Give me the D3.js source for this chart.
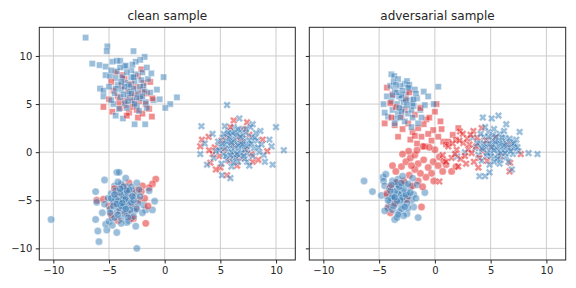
<!DOCTYPE html>
<html><head><meta charset="utf-8">
<script src="https://cdn.jsdelivr.net/npm/d3@7"></script>
<style>body{margin:0;background:#fff}svg{display:block}text{font-family:"DejaVu Sans",sans-serif;fill:#262626}</style>
</head><body><svg id="c" width="576" height="288"></svg>
<script>
const panelTitles = ["clean sample", "adversarial sample"];
const xTicks = [-10, -5, 0, 5, 10];
const yTicks = [-10, -5, 0, 5, 10];
const colorNames = ["blue", "red"];
const markerNames = ["square", "circle", "x"];

// clean sample
const cleanSquareBlue = [[-7.1,11.9],[-5.15,11.0],[-5.2,10.5],[-2.8,10.5],[-6.5,9.2],[-5.85,9.05],[-5.3,8.9],[-1.8,9.9],[-2.2,9.6],[-2.6,9.4],[-4.7,9.4],[-4.3,9.5],[-4.0,9.5],[-3.6,8.9],[-5.8,6.6],[-5.5,6.4],[-5.5,5.8],[-5.3,8.0],[-4.9,7.9],[-4.4,7.7],[-0.1,7.8],[1.1,5.7],[0.5,5.0],[-0.45,5.5],[0.05,4.6],[-4.4,3.8],[-3.75,3.5],[-2.7,2.9],[-1.75,2.9],[-1.6,4.6],[-1.0,5.4],[-0.7,6.5],[-3.5,7.2],[-3.1,6.8],[-2.7,7.4],[-3.9,6.5],[-4.2,7.0],[-2.4,6.2],[-3.3,5.9],[-2.9,5.4],[-3.6,5.1],[-4.0,5.7],[-2.2,5.6],[-1.9,6.9],[-3.8,7.8],[-2.6,8.1],[-3.0,8.5],[-4.5,6.1],[-4.6,5.0],[-3.4,4.6],[-2.5,4.8],[-1.5,7.6],[-2.0,8.3],[-1.3,6.2],[-3.2,6.3],[-2.8,6.6],[-3.7,6.0],[-4.3,8.4],[-3.5,9.0],[-1.2,8.2],[-2.3,4.3],[-4.8,5.4],[-3.0,7.8],[-4.1,4.5],[-1.7,5.2],[-2.1,7.5],[-3.2,7.0],[-2.8,7.8],[-3.6,6.8],[-2.5,5.7],[-3.0,6.1],[-2.2,6.8],[-3.9,7.3],[-2.7,5.0],[-1.8,6.3],[-3.4,8.3],[-4.0,8.8],[-2.9,9.1],[-1.6,8.8],[-4.8,8.5],[-5.0,6.8],[-2.0,5.8],[-3.3,5.3],[-4.4,6.6]];
const cleanSquareRed = [[-5.5,4.7],[-4.7,4.2],[-1.15,3.7],[-1.3,7.3],[-4.4,8.3],[-2.4,3.6],[-2.0,4.0],[-3.2,4.1],[-4.0,4.6],[-3.6,5.4],[-2.8,5.2],[-2.2,5.9],[-1.6,6.1],[-3.3,6.4],[-3.9,6.9],[-4.2,5.8],[-2.6,6.8],[-2.0,6.5],[-1.7,5.0],[-3.0,7.1],[-3.6,7.6],[-2.4,7.9],[-4.6,6.4],[-1.4,4.5],[-2.9,4.7],[-3.5,4.9],[-4.1,5.2],[-2.3,5.3],[-1.9,7.2],[-3.1,5.7],[-2.7,6.0],[-4.8,7.3],[-3.8,8.0],[-2.5,4.4],[-1.1,5.6],[-3.4,3.8],[-5.0,5.5],[-2.1,8.6]];
const cleanCircleBlue = [[-10.2,-7.0],[-6.2,-4.1],[-5.4,-2.9],[-4.3,-2.1],[-4.1,-2.1],[-6.1,-5.2],[-6.2,-7.0],[-6.0,-8.2],[-5.9,-9.3],[-5.2,-8.1],[-4.3,-8.35],[-2.6,-7.7],[-2.5,-10.0],[-1.7,-6.0],[-0.9,-5.1],[-1.1,-6.0],[-2.5,-3.2],[-5.6,-6.3],[-5.3,-7.5],[-5.0,-7.2],[-4.7,-6.9],[-1.4,-4.0],[-1.9,-5.5],[-3.2,-7.1],[-4.5,-3.5],[-3.9,-3.3],[-3.4,-3.6],[-2.9,-4.0],[-4.8,-4.3],[-4.2,-4.6],[-3.6,-4.4],[-3.1,-4.8],[-2.6,-4.5],[-4.6,-5.2],[-4.0,-5.4],[-3.5,-5.1],[-2.9,-5.6],[-2.4,-5.3],[-4.9,-5.9],[-4.3,-6.2],[-3.7,-6.0],[-3.2,-6.4],[-2.7,-6.1],[-4.5,-6.8],[-3.9,-6.9],[-3.4,-7.3],[-5.1,-4.8],[-3.8,-4.0],[-3.3,-5.5],[-4.1,-5.8],[-3.0,-3.6],[-2.2,-4.6],[-5.4,-5.4],[-4.4,-4.0],[-3.6,-5.7],[-2.8,-6.7],[-4.7,-7.6],[-3.5,-2.7],[-2.0,-6.3],[-3.9,-4.9],[-4.2,-3.1],[-3.7,-4.6],[-4.1,-5.1],[-3.3,-4.3],[-3.9,-5.6],[-4.4,-4.9],[-3.5,-4.9],[-3.0,-5.2],[-4.0,-4.2],[-3.6,-6.4],[-4.6,-5.6],[-3.2,-3.9],[-2.8,-5.0],[-4.3,-5.4],[-3.8,-5.3],[-3.4,-4.0],[-4.8,-4.8],[-3.1,-6.0],[-4.2,-6.5],[-2.5,-5.9],[-3.7,-3.6],[-4.5,-4.4],[-3.3,-6.8],[-2.9,-4.6],[-4.0,-3.8],[-3.5,-5.9],[-2.3,-3.9],[-4.9,-6.3],[-3.9,-7.4]];
const cleanCircleRed = [[-0.8,-2.8],[-1.1,-3.3],[-1.4,-3.7],[-6.1,-5.0],[-1.7,-7.4],[-2.8,-6.9],[-2.0,-3.5],[-2.5,-3.9],[-3.2,-3.2],[-3.8,-3.5],[-4.3,-4.4],[-3.6,-4.7],[-2.9,-4.3],[-2.3,-5.0],[-5.0,-5.6],[-4.6,-5.4],[-4.0,-6.1],[-3.4,-6.3],[-2.6,-5.8],[-1.8,-4.8],[-4.8,-6.5],[-3.9,-5.2],[-3.1,-5.4],[-5.5,-4.9],[-4.2,-7.1],[-2.1,-4.1],[-3.5,-3.9],[-1.5,-5.6],[-4.5,-3.8],[-3.0,-6.9]];
const cleanXBlue = [[5.6,4.9],[6.7,3.5],[3.3,2.7],[3.2,-0.2],[10.0,2.6],[10.7,0.2],[9.6,0.6],[9.4,1.3],[9.7,-1.3],[9.0,-1.0],[5.15,-2.4],[5.9,-2.7],[3.8,-1.3],[7.4,-1.0],[3.6,0.9],[4.3,1.9],[8.9,-0.3],[8.6,2.2],[7.9,2.9],[5.2,1.5],[5.7,2.2],[6.2,2.6],[6.8,2.3],[7.3,2.0],[7.8,1.6],[8.3,1.2],[5.0,0.6],[5.5,0.9],[6.0,1.3],[6.5,1.0],[7.0,1.4],[7.5,0.8],[8.0,0.4],[4.6,0.1],[5.3,-0.2],[5.8,0.3],[6.3,0.0],[6.9,0.5],[7.4,-0.1],[7.9,-0.4],[8.5,0.0],[5.6,-0.8],[6.1,-0.6],[6.6,-1.0],[7.2,-0.7],[5.9,1.8],[6.4,1.7],[7.1,1.1],[4.8,1.1],[6.7,0.3],[8.2,2.0],[5.4,2.7],[6.0,-1.5],[7.6,-1.4],[4.4,-0.6],[8.7,0.8],[5.1,-1.2],[6.3,2.1],[7.7,2.6],[6.2,1.2],[6.8,0.9],[5.9,0.7],[7.2,0.3],[6.5,1.9],[5.6,1.1],[7.0,1.8],[6.0,0.0],[6.7,-0.3],[5.4,0.4],[7.6,1.2],[6.3,0.5],[5.8,1.5],[6.9,-0.1],[7.4,0.6],[6.1,2.0],[5.5,-0.4],[6.6,0.7],[7.8,0.9],[5.2,0.9],[6.4,-0.6],[7.1,-0.4],[5.7,2.0],[8.1,1.5],[6.0,1.0],[6.8,1.6],[5.3,1.9],[7.3,2.4],[6.5,-0.2],[4.9,0.2],[8.4,0.5],[6.2,-1.1],[7.0,0.8],[5.9,-0.3],[6.6,2.4]];
const cleanXRed = [[3.35,1.3],[3.95,1.6],[7.4,3.1],[6.2,3.3],[5.6,-2.4],[4.1,-1.1],[3.2,0.6],[9.2,0.1],[4.5,0.5],[4.9,-0.4],[5.3,0.2],[5.8,-0.9],[6.3,-0.3],[6.8,-0.6],[7.3,0.2],[7.8,-0.2],[8.4,-0.8],[5.1,1.2],[5.6,1.6],[6.1,0.8],[6.6,1.5],[7.1,2.4],[7.6,1.8],[4.3,-0.2],[5.0,-1.6],[6.5,-1.4],[7.9,-1.0],[8.8,1.3],[4.0,0.2],[5.9,2.6],[4.6,-1.8],[6.9,1.1]];

// adversarial sample
const advSquareBlue = [[-3.9,8.1],[-3.65,7.9],[-3.3,7.6],[-2.7,7.1],[-2.25,6.55],[-1.8,6.5],[-1.0,6.3],[0.3,6.8],[-4.3,5.8],[-4.2,3.7],[-4.5,4.1],[-3.8,4.4],[-3.4,5.0],[-3.0,5.6],[-2.6,6.0],[-2.2,5.4],[-1.9,4.8],[-3.6,6.4],[-3.1,6.9],[-2.5,7.4],[-3.9,5.3],[-2.9,4.5],[-2.4,4.0],[-1.6,5.6],[-3.3,4.0],[-2.0,3.6],[-1.3,4.4],[-4.0,6.9],[-3.5,3.5],[-2.7,3.2],[-1.5,3.0],[-2.1,2.6],[-0.1,5.0],[-0.9,4.9],[-3.7,7.3],[-2.8,5.2],[-3.2,5.8],[-4.6,5.0],[-1.2,3.6],[-0.6,5.8],[-2.3,7.0],[-3.0,4.2],[-2.0,5.0],[-3.6,3.0],[-1.7,6.1],[-3.0,5.9],[-3.4,6.2],[-2.6,5.4],[-3.2,4.6],[-2.4,6.7],[-3.8,5.9],[-2.9,6.4],[-2.1,4.4],[-3.5,7.0],[-1.9,5.5],[-2.5,4.9],[-3.1,3.6]];
const advSquareRed = [[-4.3,6.7],[-4.5,3.0],[-3.3,1.6],[-0.75,3.4],[0.0,4.2],[0.15,5.0],[-0.15,2.3],[0.75,1.1],[1.2,1.1],[2.1,2.5],[1.6,1.8],[-3.8,6.0],[-3.5,4.7],[-3.0,3.7],[-2.7,4.4],[-2.4,3.0],[-2.0,2.1],[-1.8,3.9],[-1.5,2.5],[-1.2,1.6],[-1.0,2.9],[-0.6,1.9],[-0.3,1.2],[0.3,1.6],[0.6,2.4],[1.0,0.8],[-2.9,2.4],[-3.6,2.8],[-2.2,1.3],[-1.6,0.9],[-0.5,3.6],[-2.6,5.5],[-1.3,4.6],[-3.9,3.6],[-0.9,0.6],[1.9,1.3],[0.5,3.2],[-4.0,5.1],[-2.3,6.2],[-1.8,1.7]];
const advCircleBlue = [[-6.35,-3.0],[-5.6,-4.1],[-4.65,-2.6],[-4.6,-3.0],[-4.5,-3.5],[-3.6,-7.0],[-1.5,-6.8],[-0.9,-4.2],[-4.2,-5.8],[-1.9,-5.7],[-2.5,-6.4],[-4.8,-4.5],[-3.8,-3.0],[-3.3,-2.8],[-2.7,-3.2],[-2.2,-3.6],[-4.1,-3.8],[-3.5,-3.7],[-3.0,-4.0],[-2.5,-4.2],[-1.9,-4.4],[-4.3,-4.5],[-3.7,-4.4],[-3.2,-4.8],[-2.7,-4.9],[-2.1,-5.0],[-4.0,-5.2],[-3.5,-5.4],[-2.9,-5.5],[-2.4,-5.8],[-3.8,-6.0],[-3.2,-6.2],[-2.8,-6.6],[-3.3,-3.4],[-2.9,-2.5],[-4.4,-2.3],[-3.6,-5.0],[-3.0,-4.4],[-2.4,-4.6],[-3.9,-4.8],[-1.6,-3.4],[-2.0,-2.7],[-3.4,-6.8],[-4.5,-6.1],[-1.7,-4.8],[-3.3,-4.3],[-2.9,-4.7],[-3.6,-4.1],[-3.1,-5.0],[-2.6,-4.4],[-3.4,-5.1],[-3.8,-4.6],[-2.8,-3.8],[-3.2,-3.6],[-3.7,-5.6],[-2.5,-5.3],[-3.0,-5.9],[-4.0,-4.0],[-2.2,-4.2],[-3.5,-3.1],[-4.2,-5.0],[-2.7,-5.7],[-3.3,-6.5],[-3.9,-3.4],[-2.4,-3.3],[-3.6,-4.7],[-3.0,-3.2]];
const advCircleRed = [[1.5,-2.0],[-0.15,-1.0],[-1.05,0.6],[0.0,0.25],[-2.35,0.1],[-4.2,-5.7],[-1.2,-5.7],[-4.0,-6.3],[-3.5,-2.0],[-3.0,-1.5],[-2.6,-1.0],[-2.2,-0.6],[-1.8,-0.3],[-1.5,-1.2],[-1.0,-0.8],[-0.6,-1.6],[-0.3,-2.2],[0.3,-1.4],[0.7,-2.0],[1.0,-1.3],[-0.8,-2.6],[-1.3,-2.2],[-1.8,-1.8],[-2.3,-2.4],[-2.8,-3.0],[-3.4,-3.2],[-4.0,-3.6],[-0.1,-3.0],[0.4,-0.5],[-1.6,0.2],[-2.9,-0.2],[-3.8,-1.4],[-2.0,-3.5],[-1.5,-3.0],[-0.5,0.5],[1.9,-1.5],[-4.3,-4.3],[-2.5,-4.9],[-3.6,-5.3],[-2.1,-1.4],[0.8,-0.9],[-1.1,-3.6]];
const advXBlue = [[4.3,3.6],[5.1,3.5],[5.7,3.8],[7.6,2.1],[8.4,-0.1],[9.2,-0.2],[4.0,-2.5],[4.5,-2.5],[4.9,-2.1],[6.9,-1.8],[2.0,-0.45],[6.4,2.9],[3.4,1.5],[2.7,0.0],[3.6,0.4],[4.0,1.0],[4.4,1.6],[4.8,2.1],[5.3,2.4],[5.8,1.9],[6.3,1.5],[6.8,1.1],[7.2,0.6],[3.9,-0.3],[4.3,0.3],[4.7,0.8],[5.1,1.3],[5.5,0.9],[6.0,0.5],[6.5,0.2],[7.0,-0.2],[7.5,0.1],[4.2,-0.9],[4.6,-0.4],[5.0,0.0],[5.4,-0.5],[5.9,-0.8],[6.4,-0.5],[6.9,0.9],[5.2,1.8],[5.7,1.2],[6.2,2.2],[4.9,-1.3],[5.8,-1.2],[3.8,0.9],[7.3,1.3],[6.6,-1.0],[4.5,2.6],[7.0,0.4],[5.5,0.3],[6.1,1.0],[4.1,1.9],[5.2,0.7],[5.6,0.4],[4.9,0.9],[5.8,0.9],[6.1,0.2],[5.4,1.1],[4.6,0.5],[6.4,0.9],[5.0,-0.4],[5.7,-0.2],[6.6,0.5],[5.3,0.2],[4.4,0.9],[6.0,1.5],[5.5,1.6],[6.8,0.1],[4.8,1.6],[7.1,0.9],[5.9,-0.1],[4.2,0.4],[6.3,-0.1],[5.1,0.5],[5.6,-0.7],[6.7,1.4],[4.7,-0.1],[7.4,0.5],[5.3,-1.0],[6.2,0.7]];
const advXRed = [[0.4,-3.05],[2.25,2.15],[3.45,2.2],[4.2,2.5],[2.55,0.95],[1.95,0.25],[6.7,-2.0],[6.75,-1.1],[7.7,-0.2],[1.2,0.6],[1.0,-1.0],[1.5,-0.6],[1.8,-0.2],[2.3,-0.7],[2.7,-0.4],[3.0,0.3],[3.3,-0.1],[3.7,0.6],[2.9,1.4],[3.2,1.8],[2.5,1.9],[3.8,1.5],[4.3,0.1],[4.0,-0.6],[3.5,-1.0],[2.8,-1.2],[2.1,-1.5],[4.6,1.2],[5.0,0.5],[5.4,1.5],[5.9,-0.4],[6.5,0.8],[1.6,0.9],[2.2,1.2],[3.9,-1.6],[4.7,-0.9],[3.1,0.8],[0.7,-0.3]];

const panels = [
  {title: panelTitles[0], groups: [
    {marker: "square", blue: cleanSquareBlue, red: cleanSquareRed},
    {marker: "circle", blue: cleanCircleBlue, red: cleanCircleRed},
    {marker: "x", blue: cleanXBlue, red: cleanXRed}]},
  {title: panelTitles[1], groups: [
    {marker: "square", blue: advSquareBlue, red: advSquareRed},
    {marker: "circle", blue: advCircleBlue, red: advCircleRed},
    {marker: "x", blue: advXBlue, red: advXRed}]}
];

const colors = {blue: "#377eb8", red: "#e41a1c"};
const alpha = 0.5;
const svg = d3.select("#c");
const box = [{x0: 39.3, x1: 295.3}, {x0: 309.3, x1: 565.7}];
const yTop = 27.3, yBottom = 260;

function xPath(L, w) {
  const pts = [[w,L],[w,w],[L,w],[L,-w],[w,-w],[w,-L],[-w,-L],[-w,-w],[-L,-w],[-L,w],[-w,w],[-w,L]];
  const c = Math.SQRT1_2;
  return "M" + pts.map(([a,b]) => [(a - b) * c, (a + b) * c].map(v => v.toFixed(2)).join(",")).join("L") + "Z";
}
const shapes = {
  square: "M-3.1,-3.1H3.1V3.1H-3.1Z",
  circle: d3.symbol(d3.symbolCircle, Math.PI * 3.7 * 3.7)(),
  x: xPath(4.0, 1.35)
};

panels.forEach((p, pi) => {
  const b = box[pi];
  const x = d3.scaleLinear().domain([-11.26, 11.73]).range([b.x0, b.x1]);
  const y = d3.scaleLinear().domain([-11.21, 12.98]).range([yBottom, yTop]);
  const g = svg.append("g");
  g.selectAll(".gx").data(xTicks).join("line")
    .attr("x1", d => x(d)).attr("x2", d => x(d)).attr("y1", yTop).attr("y2", yBottom)
    .attr("stroke", "#cccccc").attr("stroke-width", 1);
  g.selectAll(".gy").data(yTicks).join("line")
    .attr("y1", d => y(d)).attr("y2", d => y(d)).attr("x1", b.x0).attr("x2", b.x1)
    .attr("stroke", "#cccccc").attr("stroke-width", 1);
  const clipId = "clip" + pi;
  svg.append("clipPath").attr("id", clipId).append("rect")
    .attr("x", b.x0).attr("y", yTop).attr("width", b.x1 - b.x0).attr("height", yBottom - yTop);
  const pts = [];
  p.groups.forEach(gr => {
    const n = Math.max(gr.blue.length, gr.red.length);
    for (let i = 0; i < n; i++) {
      if (i < gr.blue.length) pts.push({m: gr.marker, c: "blue", v: gr.blue[i]});
      if (i < gr.red.length) pts.push({m: gr.marker, c: "red", v: gr.red[i]});
    }
  });
  g.append("g").attr("clip-path", `url(#${clipId})`)
    .selectAll("path").data(pts).join("path")
    .attr("d", d => shapes[d.m])
    .attr("transform", d => `translate(${x(d.v[0])},${y(d.v[1])})`)
    .attr("fill", d => colors[d.c]).attr("fill-opacity", alpha)
    .attr("stroke", "#fff").attr("stroke-opacity", alpha).attr("stroke-width", 0.75);
  const ax = g.append("g").attr("transform", `translate(0,${yBottom})`)
    .call(d3.axisBottom(x).tickValues(xTicks).tickSize(3.5).tickSizeOuter(0).tickPadding(3));
  const ay = g.append("g").attr("transform", `translate(${b.x0},0)`)
    .call(d3.axisLeft(y).tickValues(yTicks).tickSize(3.5).tickSizeOuter(0).tickPadding(3.5)
      .tickFormat(pi === 0 ? d3.format("d") : () => ""));
  [ax, ay].forEach(a => {
    a.select(".domain").remove();
    a.selectAll("line").attr("stroke", "#262626").attr("stroke-width", 1);
    a.selectAll("text").attr("font-size", 10).attr("fill", "#262626").attr("font-family", "DejaVu Sans");
  });
  g.append("rect").attr("x", b.x0).attr("y", yTop).attr("width", b.x1 - b.x0).attr("height", yBottom - yTop)
    .attr("fill", "none").attr("stroke", "#262626").attr("stroke-width", 1);
  g.append("text").attr("x", (b.x0 + b.x1) / 2).attr("y", 20).attr("text-anchor", "middle")
    .attr("font-size", 12).text(p.title);
});
</script></body></html>
